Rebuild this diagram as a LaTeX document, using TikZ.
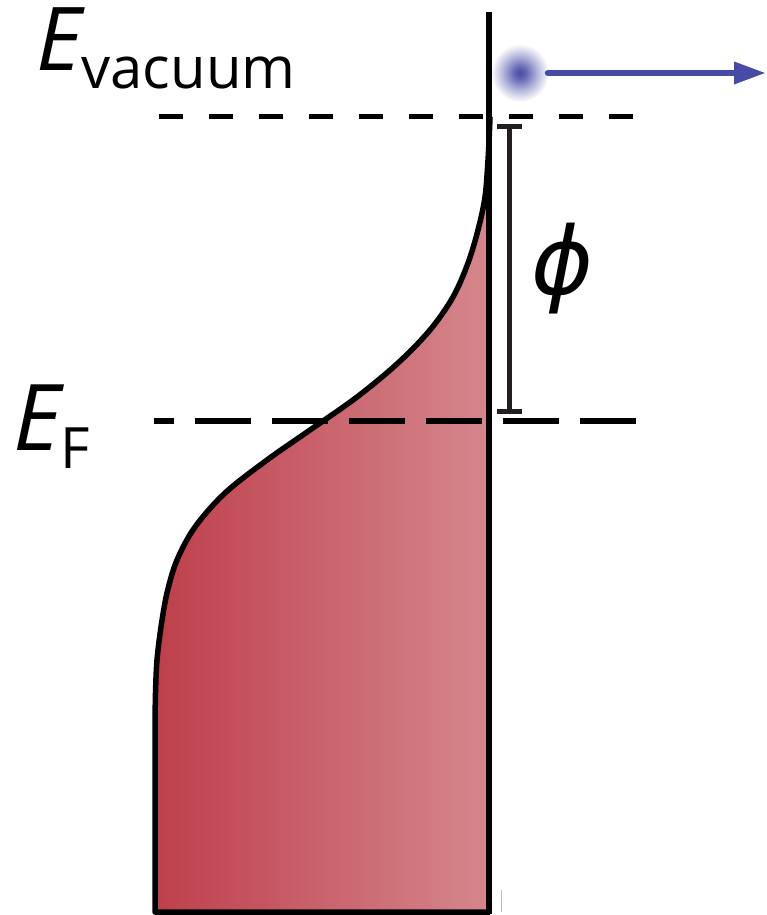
\documentclass[tikz,border=0pt]{standalone}
\usepackage{fontspec}
\setmainfont{Open Sans}
\newfontfamily\dejavu{DejaVu Sans}
\usetikzlibrary{arrows.meta}
\definecolor{fillL}{HTML}{BE3F4C}
\definecolor{fillR}{HTML}{D5878D}
\definecolor{eblue}{HTML}{474BA6}
\definecolor{barcol}{HTML}{231F20}
\pgfdeclareradialshading{glow}{\pgfpoint{0bp}{0bp}}{color(0bp)=(eblue); color(5bp)=(eblue!85!white); color(15bp)=(eblue!40!white); color(25bp)=(white); color(50bp)=(white)}
\tikzset{
  outline/.style={line width=5.5pt, black, line join=round},
  dashtop/.style={line width=5pt, dash pattern=on 24pt off 26pt},
  dashlow/.style={line width=5.5pt, dash pattern=on 56pt off 21pt, dash phase=36pt},
  phibar/.style={line width=5pt, draw=barcol},
  lbl/.style={inner sep=0pt, anchor=base west},
}
\begin{document}
\begin{tikzpicture}[x=1pt,y=-1pt]
\useasboundingbox (0,0) rectangle (767,915);
% electron glow (drawn first so its white rim stays under the lines)
\node[circle, minimum size=58pt, inner sep=0pt, shading=glow] (e) at (520,73) {};
% filled distribution
\def\fermicurve{plot[smooth, tension=0.55] coordinates {(490,117) (489.5,130) (488,160) (485,197) (478,230) (468,263) (453,297) (430,330) (398,363) (357,397) (310,430) (267,460) (225,493) (195,527) (177,560) (167,593) (161,627) (157,660) (155.5,693) (155,725)}}
\shade[left color=fillL, right color=fillR] \fermicurve -- (155,912) -- (490,912) -- cycle;
\draw[outline] \fermicurve -- (155,912) -- (490,912);
% vertical surface line
\coordinate (stop) at (489,12);
\coordinate (sbot) at (489,914);
\draw[line width=5.5pt] (stop) -- (sbot);
\coordinate (tick1) at (501,890);
\coordinate (tick2) at (501,912);
\draw[line width=1pt, black!25] (tick1) -- (tick2);
% dashed levels
\coordinate (vacL) at (159,117);
\coordinate (vacR) at (633,117);
\draw[dashtop] (vacL) -- (vacR);
\coordinate (fL) at (154,421);
\coordinate (fR) at (638,421);
\draw[dashlow] (fL) -- (fR);
% work function bar
\coordinate (phiT) at (509.5,127);
\coordinate (phiB) at (509.5,411);
\coordinate (phiTl) at (497,127);
\coordinate (phiTr) at (522,127);
\coordinate (phiBl) at (497,411);
\coordinate (phiBr) at (522,411);
\draw[phibar] (phiT) -- (phiB);
\draw[phibar] (phiTl) -- (phiTr);
\draw[phibar] (phiBl) -- (phiBr);
\node[inner sep=0pt] (phi) at (562,269) {\fontsize{94pt}{94pt}\selectfont\dejavu\itshape ϕ};
% labels
\node[lbl] (evac) at (36,71) {\fontsize{88pt}{88pt}\selectfont\itshape E\raisebox{-18pt}{\fontsize{58pt}{58pt}\selectfont\upshape vacuum}};
\node[lbl] (ef) at (13,450) {\fontsize{92pt}{92pt}\selectfont\itshape E\raisebox{-18pt}{\fontsize{57pt}{57pt}\selectfont\upshape F}};
% electron path
\coordinate (etip) at (766,73);
\draw[eblue, line width=6.5pt, line cap=round, shorten <=28pt, -{Triangle[length=32pt,width=21pt]}] (e.center) -- (etip);
\end{tikzpicture}
\end{document}
